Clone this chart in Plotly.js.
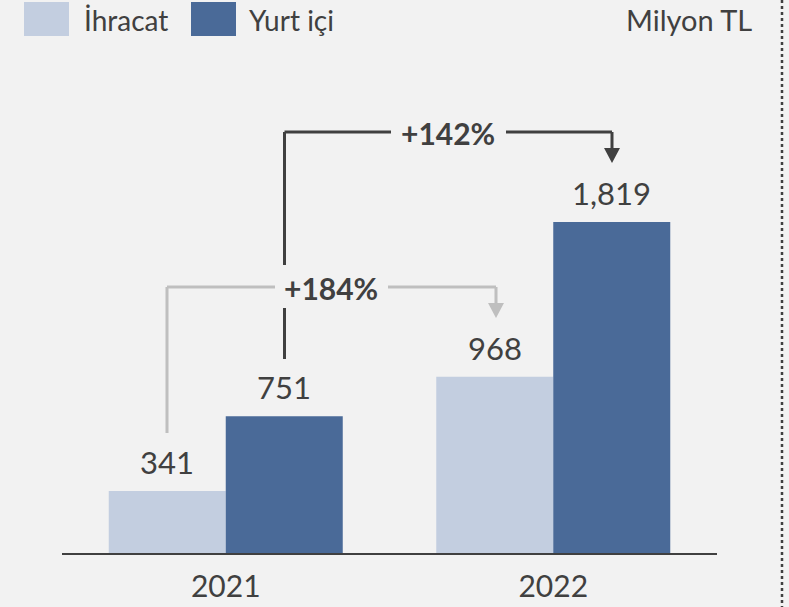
<!DOCTYPE html>
<html>
<head>
<meta charset="utf-8">
<script src="https://cdn.plot.ly/plotly-3.0.1.min.js"></script>
<style>html,body{margin:0;padding:0;background:#f2f2f2;}</style>
</head>
<body>
<div id="chart" style="width:789px;height:607px;"></div>
<script>
const categories = ["2021", "2022"];
const seriesNames = ["İhracat", "Yurt içi"];
const ihracat = [341, 968];
const yurtici = [751, 1819];
const valueLabels = [["341", "968"], ["751", "1,819"]];
const changeLabels = ["+184%", "+142%"];
const unitLabel = "Milyon TL";

const LIGHT = "#c3cee0", DARK = "#4a6a98", TXT = "#404040", GRAY = "#bfbfbf";
const BG = "#f2f2f2";
const FONT = "Lato, 'Open Sans', sans-serif";

// plot area in pixels
const L = 62, R = 72, T = 60, B = 54, WIDTH = 789, HEIGHT = 607;
const PW = WIDTH - L - R, PH = HEIGHT - T - B;
const px = x => (x - L) / PW;
const py = y => (HEIGHT - B - y) / PH;

const bargap = 0.2855;
const off = (1 - bargap) / 4;

const traces = [
  {type: "bar", x: categories, y: ihracat, name: seriesNames[0], marker: {color: LIGHT}, hoverinfo: "none"},
  {type: "bar", x: categories, y: yurtici, name: seriesNames[1], marker: {color: DARK}, hoverinfo: "none"}
];

const annotations = [];
const series = [ihracat, yurtici];
series.forEach((s, si) => {
  s.forEach((v, i) => {
    annotations.push({
      x: i + (si === 0 ? -off : off), y: v, xref: "x", yref: "y",
      text: valueLabels[si][i], showarrow: false, xanchor: "center", yanchor: "bottom", yshift: 8,
      font: {family: FONT, size: 31, color: TXT}
    });
  });
});

// change labels
annotations.push({x: px(331), y: py(288), xref: "paper", yref: "paper", xanchor: "center", yanchor: "middle",
  text: "<b>" + changeLabels[0] + "</b>", showarrow: false, font: {family: FONT, size: 30, color: TXT}});
annotations.push({x: px(448), y: py(133), xref: "paper", yref: "paper", xanchor: "center", yanchor: "middle",
  text: "<b>" + changeLabels[1] + "</b>", showarrow: false, font: {family: FONT, size: 30, color: TXT}});

// legend
const legendItems = [
  {x0: 24, x1: 69, tx: 82, color: LIGHT, text: seriesNames[0]},
  {x0: 191, x1: 236, tx: 247, color: DARK, text: seriesNames[1]}
];
const shapes = [];
legendItems.forEach(it => {
  shapes.push({type: "rect", xref: "paper", yref: "paper", x0: px(it.x0), x1: px(it.x1), y0: py(36), y1: py(2),
    fillcolor: it.color, line: {width: 0}});
  annotations.push({x: px(it.tx), y: py(20), xref: "paper", yref: "paper", xanchor: "left", yanchor: "middle",
    text: it.text, showarrow: false, font: {family: FONT, size: 28, color: TXT}});
});
annotations.push({x: px(754), y: py(20), xref: "paper", yref: "paper", xanchor: "right", yanchor: "middle",
  text: unitLabel, showarrow: false, font: {family: FONT, size: 29, color: TXT}});

function seg(x0, y0, x1, y1, color, w) {
  shapes.push({type: "line", xref: "paper", yref: "paper", x0: px(x0), y0: py(y0), x1: px(x1), y1: py(y1),
    line: {color: color, width: w}});
}
function tri(x, ytip, color) {
  shapes.push({type: "path", xref: "paper", yref: "paper",
    path: `M ${px(x - 8)} ${py(ytip - 15)} L ${px(x + 8)} ${py(ytip - 15)} L ${px(x)} ${py(ytip)} Z`,
    fillcolor: color, line: {width: 0}});
}
// gray bracket (İhracat)
seg(167, 433, 167, 287, GRAY, 3);
seg(167, 287, 275, 287, GRAY, 3);
seg(388, 287, 496, 287, GRAY, 3);
seg(496, 287, 496, 304, GRAY, 3);
tri(496, 318, GRAY);
// dark bracket (Yurt içi)
seg(284.5, 359, 284.5, 308, TXT, 3);
seg(284.5, 265, 284.5, 132, TXT, 3);
seg(284.5, 132, 391, 132, TXT, 3);
seg(506, 132, 612, 132, TXT, 3);
seg(612, 132, 612, 149, TXT, 3);
tri(612, 163, TXT);
// dotted right border
seg(782, 0, 782, 607, TXT, 2.5);
shapes[shapes.length - 1].line.dash = "dot";

const layout = {
  width: WIDTH, height: HEIGHT,
  margin: {l: L, r: R, t: T, b: B, pad: 0},
  paper_bgcolor: BG, plot_bgcolor: BG,
  barmode: "group", bargap: bargap, bargroupgap: 0,
  showlegend: false,
  xaxis: {type: "category", range: [-0.5, 1.5], showline: true, linecolor: TXT, linewidth: 2,
    ticks: "", showgrid: false, zeroline: false, fixedrange: true, ticklabelstandoff: 6,
    tickfont: {family: FONT, size: 30, color: TXT}},
  yaxis: {range: [0, PH / 0.18197], visible: false, showgrid: false, zeroline: false, fixedrange: true},
  annotations: annotations,
  shapes: shapes
};

Plotly.newPlot("chart", traces, layout, {displayModeBar: false, staticPlot: true});
</script>
</body>
</html>
